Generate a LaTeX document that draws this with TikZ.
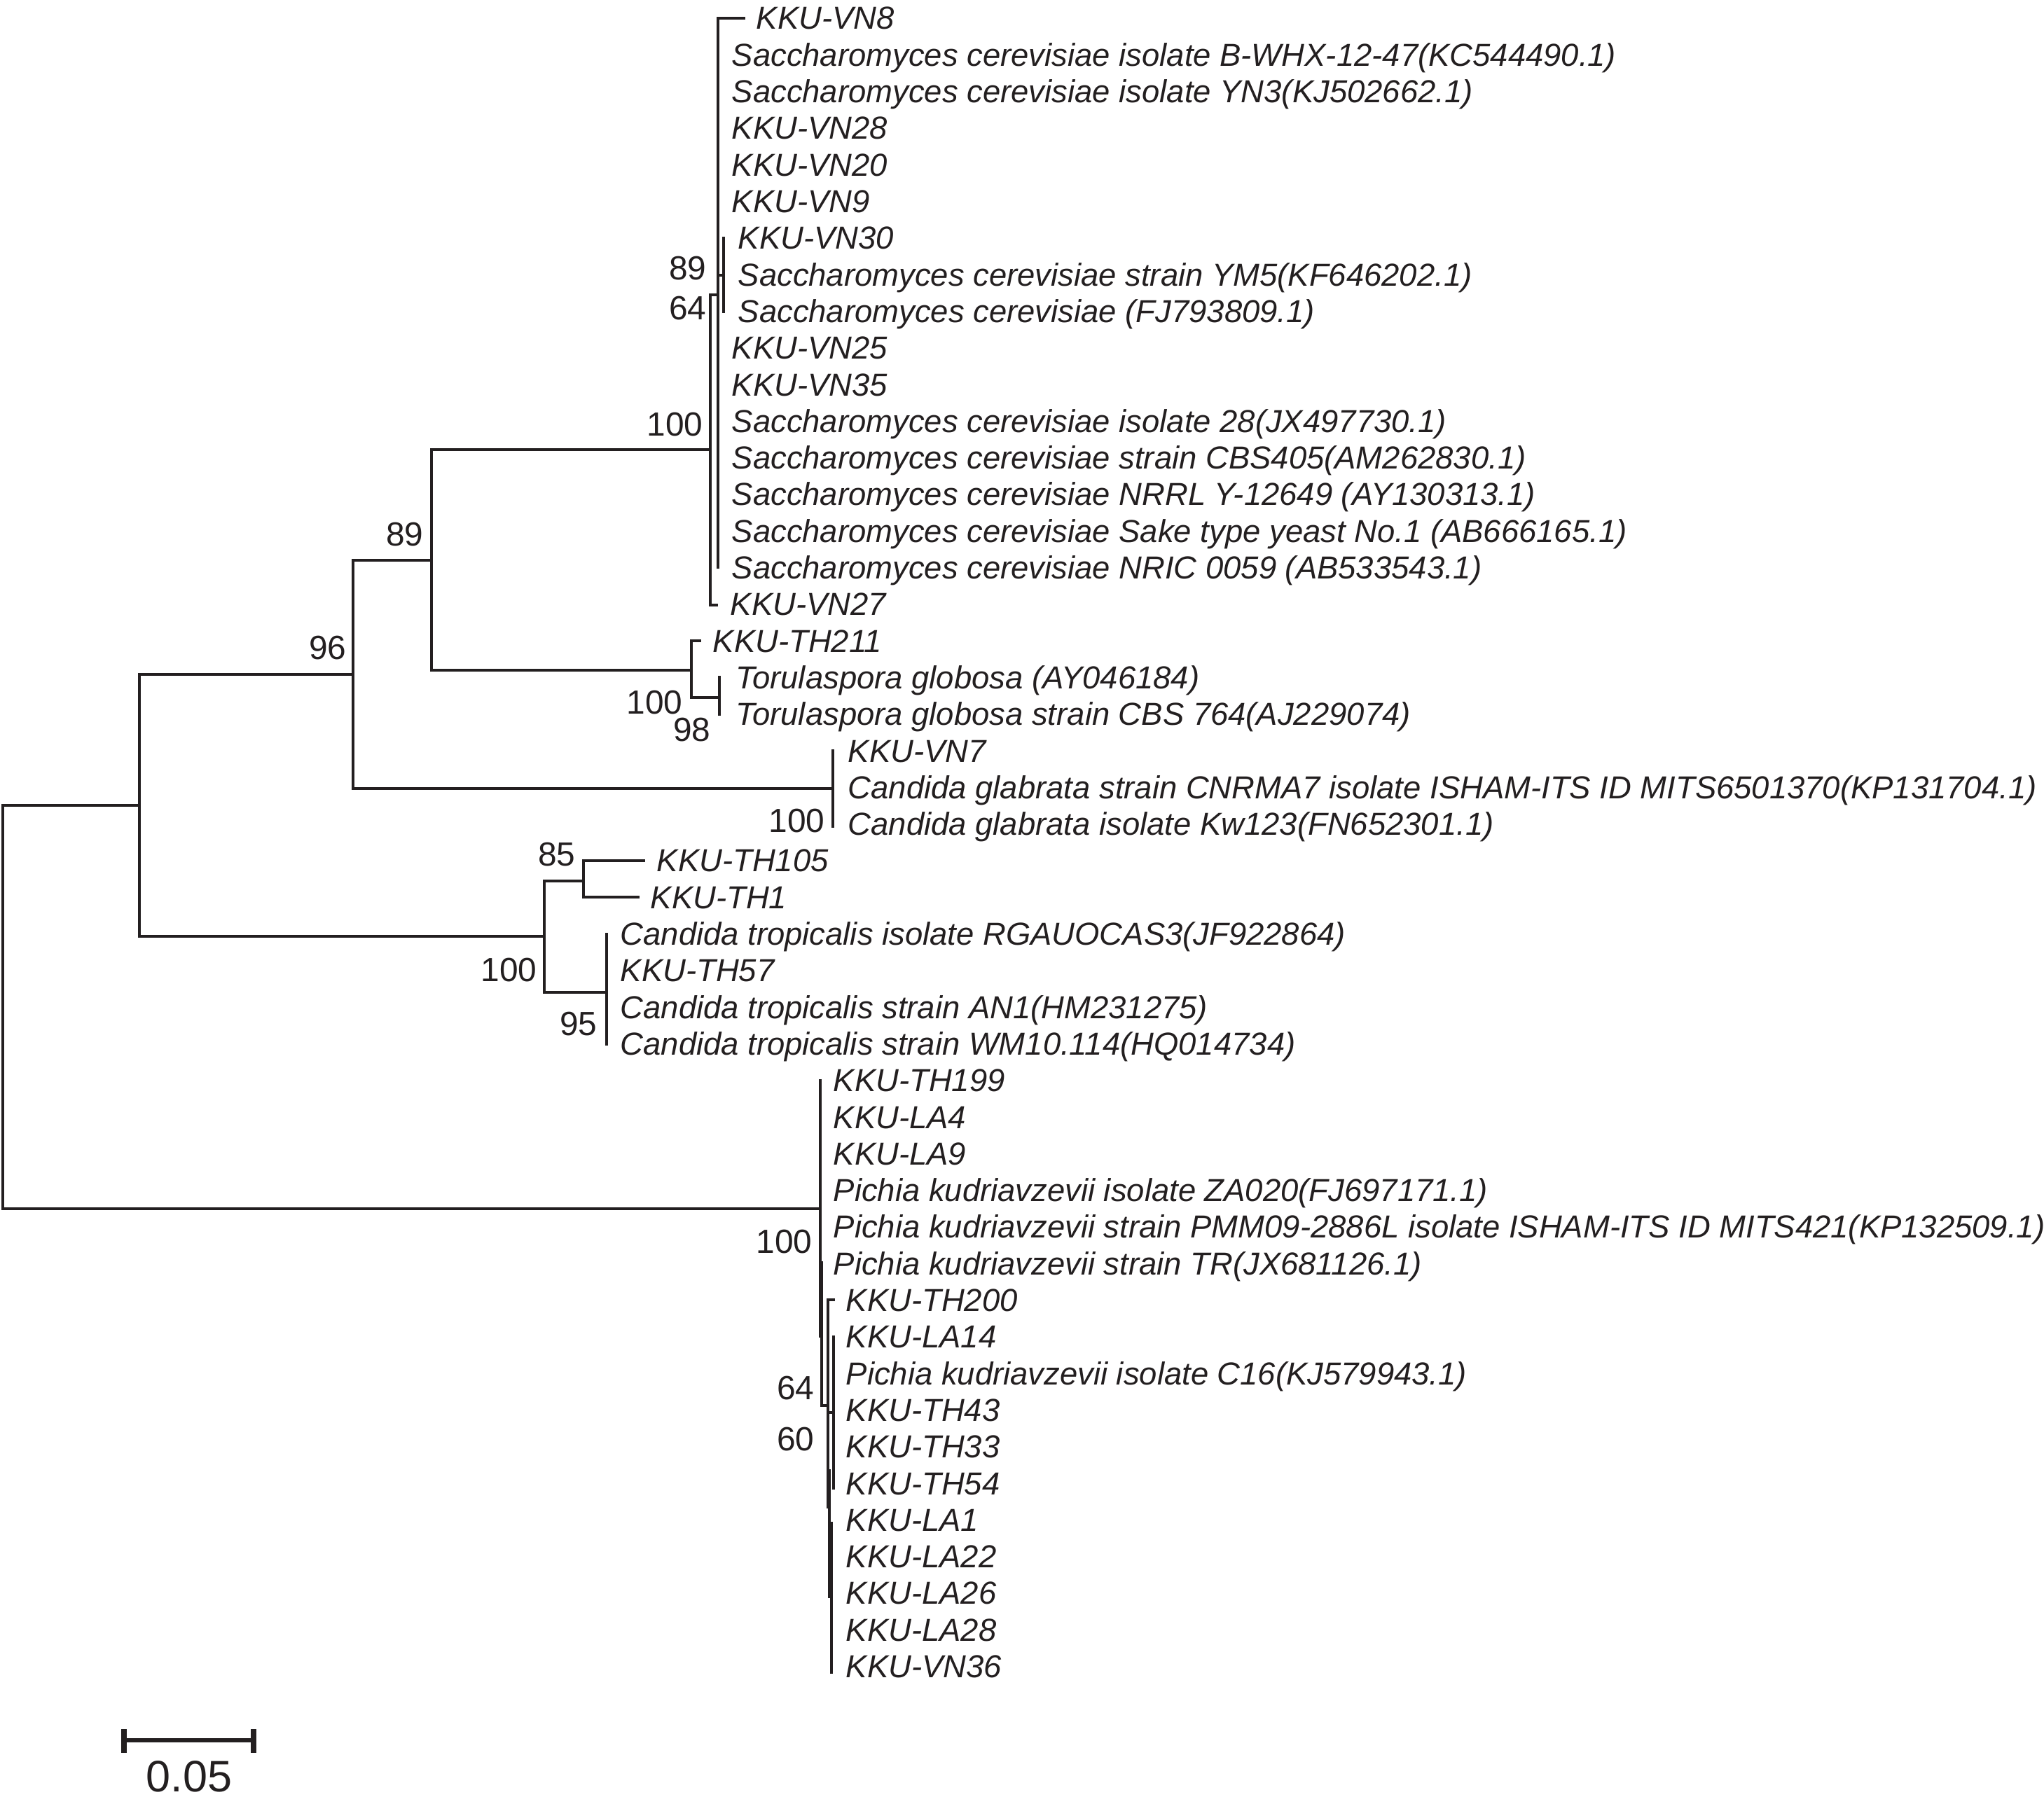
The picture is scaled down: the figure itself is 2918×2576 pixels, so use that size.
\documentclass[tikz,border=0pt]{standalone}
\usepackage{fontspec}
\setmainfont{Liberation Sans}
\definecolor{ink}{HTML}{231F20}
\newcommand{\labfont}{\fontsize{12.92}{14}\selectfont\itshape}
\newcommand{\bsfont}{\fontsize{13.6}{15}\selectfont}
\newcommand{\scfont}{\fontsize{17.9}{20}\selectfont}
\begin{document}
\begin{tikzpicture}[x=0.01cm,y=-0.01cm,
  leaf/.style={anchor=base west,inner sep=0pt,font=\labfont,text=ink},
  bs/.style={anchor=east,inner sep=0pt,font=\bsfont,text=ink},
  br/.style={draw=ink,line width=1pt,line cap=rect}]
\useasboundingbox (0,0) rectangle (2918,2576);
% ---------- labels (row y = 26 + 52.3 i; baseline +16)
\foreach \i/\x/\t in {
 0/1079/KKU-VN8,
 1/1044/Saccharomyces cerevisiae isolate B-WHX-12-47(KC544490.1),
 2/1044/Saccharomyces cerevisiae isolate YN3(KJ502662.1),
 3/1044/KKU-VN28,
 4/1044/KKU-VN20,
 5/1044/KKU-VN9,
 6/1053/KKU-VN30,
 7/1053/Saccharomyces cerevisiae strain YM5(KF646202.1),
 8/1053/Saccharomyces cerevisiae (FJ793809.1),
 9/1044/KKU-VN25,
 10/1044/KKU-VN35,
 11/1044/Saccharomyces cerevisiae isolate 28(JX497730.1),
 12/1044/Saccharomyces cerevisiae strain CBS405(AM262830.1),
 13/1044/Saccharomyces cerevisiae NRRL Y-12649 (AY130313.1),
 14/1044/Saccharomyces cerevisiae Sake type yeast No.1 (AB666165.1),
 15/1044/Saccharomyces cerevisiae NRIC 0059 (AB533543.1),
 16/1042/KKU-VN27,
 17/1017/KKU-TH211,
 18/1050/Torulaspora globosa (AY046184),
 19/1050/Torulaspora globosa strain CBS 764(AJ229074),
 20/1210/KKU-VN7,
 21/1210/Candida glabrata strain CNRMA7 isolate ISHAM-ITS ID MITS6501370(KP131704.1),
 22/1210/Candida glabrata isolate Kw123(FN652301.1),
 23/937/KKU-TH105,
 24/928/KKU-TH1,
 25/885/Candida tropicalis isolate RGAUOCAS3(JF922864),
 26/885/KKU-TH57,
 27/885/Candida tropicalis strain AN1(HM231275),
 28/885/Candida tropicalis strain WM10.114(HQ014734),
 29/1189/KKU-TH199,
 30/1189/KKU-LA4,
 31/1189/KKU-LA9,
 32/1189/Pichia kudriavzevii isolate ZA020(FJ697171.1),
 33/1189/Pichia kudriavzevii strain PMM09-2886L isolate ISHAM-ITS ID MITS421(KP132509.1),
 34/1189/Pichia kudriavzevii strain TR(JX681126.1),
 35/1207/KKU-TH200,
 36/1207/KKU-LA14,
 37/1207/Pichia kudriavzevii isolate C16(KJ579943.1),
 38/1207/KKU-TH43,
 39/1207/KKU-TH33,
 40/1207/KKU-TH54,
 41/1207/KKU-LA1,
 42/1207/KKU-LA22,
 43/1207/KKU-LA26,
 44/1207/KKU-LA28,
 45/1207/KKU-VN36}
 {\node[leaf] (l\i) at (\x,{42+52.3*\i}) {\t};}
% ---------- tree
% root
\draw[br] (4,1150) -- (4,1726);
\draw[br] (4,1150) -- (199,1150);
\draw[br] (4,1726) -- (1171,1726);
% node N1
\draw[br] (199,963) -- (199,1337);
\draw[br] (199,963) -- (504,963);
\draw[br] (199,1337) -- (777,1337);
% node 96
\draw[br] (504,800) -- (504,1126);
\draw[br] (504,800) -- (616,800);
\draw[br] (504,1126) -- (1189,1126);
% node 89
\draw[br] (616,642) -- (616,957);
\draw[br] (616,642) -- (1014,642);
\draw[br] (616,957) -- (987,957);
% Saccharomyces 100
\draw[br] (1014,421) -- (1014,864);
\draw[br] (1014,421) -- (1025,421);
\draw[br] (1014,864) -- (1023,864);
% node 64
\draw[br] (1025,26) -- (1025,810);
\draw[br] (1025,26) -- (1062,26);
\draw[br] (1025,393) -- (1033,393);
\draw[br] (1033,340) -- (1033,445);
% Torulaspora
\draw[br] (987,915) -- (987,996);
\draw[br] (987,915) -- (999,915);
\draw[br] (987,996) -- (1027,996);
\draw[br] (1027,967) -- (1027,1020);
% C. glabrata
\draw[br] (1189,1072) -- (1189,1180);
% C. tropicalis
\draw[br] (777,1258) -- (777,1417);
\draw[br] (777,1258) -- (833,1258);
\draw[br] (777,1417) -- (866,1417);
\draw[br] (833,1229) -- (833,1281);
\draw[br] (833,1229) -- (919,1229);
\draw[br] (833,1281) -- (911,1281);
\draw[br] (866,1334) -- (866,1491);
% Pichia
\draw[br] (1171,1543) -- (1171,1908);
\draw[br] (1173,1803) -- (1173,2007);
\draw[br] (1173,2007) -- (1182,2007);
\draw[br] (1182,1856) -- (1182,2152);
\draw[br] (1182,1856) -- (1190,1856);
\draw[br] (1182,2017) -- (1190,2017);
\draw[br] (1190,1909) -- (1190,2125);
\draw[br] (1184,2100) -- (1184,2280);
\draw[br] (1187,2175) -- (1187,2388);
% ---------- bootstrap values
\node[bs] (b1) at (1009,383) {89};
\node[bs] (b2) at (1009,440) {64};
\node[bs] (b3) at (1004,606) {100};
\node[bs] (b4) at (605,763) {89};
\node[bs] (b5) at (495,925) {96};
\node[bs] (b6) at (975,1003) {100};
\node[bs] (b7) at (1015,1042) {98};
\node[bs] (b8) at (1178,1172) {100};
\node[bs] (b9) at (822,1220) {85};
\node[bs] (b10) at (767,1385) {100};
\node[bs] (b11) at (853,1462) {95};
\node[bs] (b12) at (1160,1773) {100};
\node[bs] (b13) at (1163,1982) {64};
\node[bs] (b14) at (1163,2055) {60};
% ---------- scale bar
\coordinate (sa) at (177,2485);
\coordinate (sb) at (362,2485);
\draw[draw=ink,line width=1.45pt] (sa) -- (sb);
\draw[draw=ink,line width=2pt] (177,2469) -- (177,2503);
\draw[draw=ink,line width=2pt] (362,2469) -- (362,2503);
\node[inner sep=0pt,font=\scfont,text=ink] (sl) at (270,2537) {0.05};
\end{tikzpicture}
\end{document}
